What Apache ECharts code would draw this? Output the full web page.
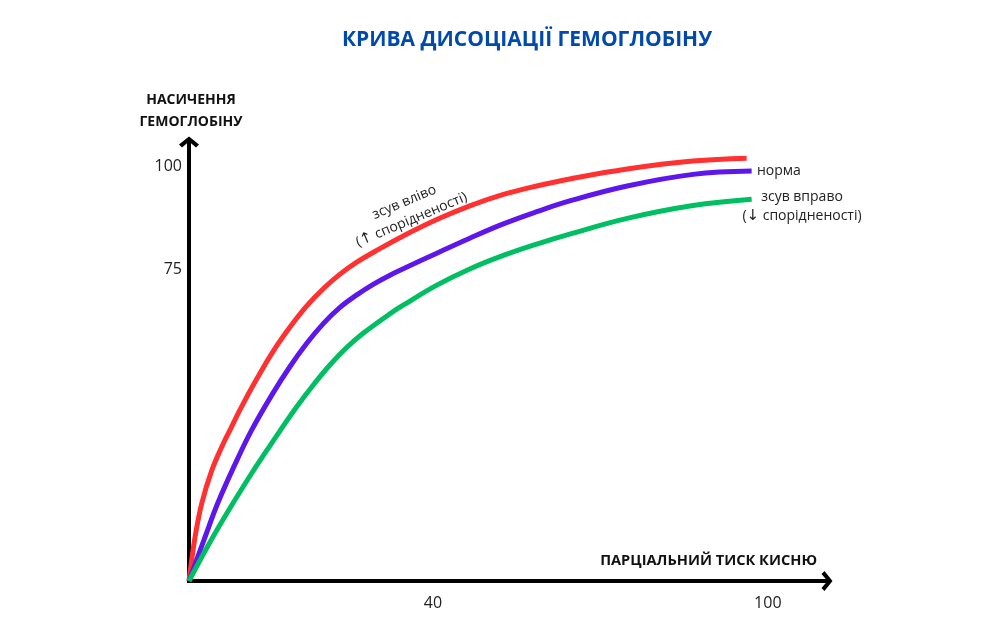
<!DOCTYPE html>
<html>
<head>
<meta charset="utf-8">
<script src="https://cdn.jsdelivr.net/npm/echarts@6/dist/echarts.min.js"></script>
<style>
  html, body { margin: 0; padding: 0; background: #fff; }
  #chart { width: 1000px; height: 628px; }
</style>
</head>
<body>
<div id="chart"></div>
<script>
// точки кривих: [тиск, насичення]
const X_MIN = -3.7
const X_MAX = 110.6
const Y_MAX = 105.8

const leftShift = [ // зсув вліво
  [-3.7, 0], [-3.5, 2.2], [-2.6, 10.7], [-1.4, 18.8], [0.4, 26.7], [2.2, 32.4],
  [3.8, 36.8], [5.4, 41.2], [8.4, 48.6], [11.4, 55.4], [14.4, 61.2], [17.4, 66.3],
  [20.4, 70.5], [23.3, 73.9], [26.3, 76.8], [30.5, 80.1], [34.6, 83.1], [40.7, 87.1],
  [46.6, 90.4], [52.5, 93.1], [58.6, 95.2], [64.5, 96.9], [74.8, 99.3], [86.6, 101.2],
  [96.2, 101.9]
]
const normal = [ // норма
  [-3.7, 0], [-0.8, 10.7], [1.5, 18.9], [4.5, 28.0], [7.5, 36.3], [11.4, 45.4],
  [14.4, 51.7], [17.4, 57.3], [20.4, 62.1], [23.3, 65.9], [26.3, 68.9], [29.3, 71.5],
  [32.3, 73.7], [34.6, 75.2], [40.7, 79.0], [46.6, 82.6], [52.5, 86.0], [58.6, 89.0],
  [64.5, 91.6], [74.8, 95.2], [86.6, 98.0], [97.1, 98.8]
]
const rightShift = [ // зсув вправо
  [-3.7, 0], [-0.3, 8.5], [3.3, 16.8], [7.5, 25.9], [10.2, 31.4], [12.6, 36.2],
  [15.6, 42.0], [18.6, 47.3], [21.5, 52.0], [24.5, 56.2], [27.5, 59.7], [32.3, 64.4],
  [34.6, 66.4], [40.7, 71.3], [46.6, 75.2], [52.5, 78.4], [58.6, 81.2], [64.5, 83.6],
  [74.8, 87.4], [86.6, 90.5], [97.1, 92.0]
]
const xTicks = [40, 100]
const yTicks = [75, 100]

const font = '"Open Sans", sans-serif'
const chevron = 'path://M10,0 L20,8 L17,11 L10,5 L3,11 L0,8 Z'

const myChart = echarts.init(document.getElementById('chart'))

function curve(name, data, color) {
  return {
    name: name,
    type: 'line',
    data: data,
    smooth: 0.4,
    showSymbol: false,
    silent: true,
    lineStyle: { color: color, width: 5 },
    z: 3
  }
}

function axisStyle() {
  return {
    show: true,
    onZero: false,
    symbol: ['none', chevron],
    symbolSize: [20, 11],
    lineStyle: { color: '#000', width: 4, cap: 'square' }
  }
}

const arrowRich = {
  a: { fontFamily: '"DejaVu Sans", sans-serif', fontSize: 15, fill: '#222' }
}

myChart.setOption({
  animation: false,
  grid: { left: 189, right: 173, top: 142, bottom: 47 },
  xAxis: {
    type: 'value',
    min: X_MIN,
    max: X_MAX,
    axisLine: axisStyle(),
    axisTick: { show: false },
    splitLine: { show: false },
    axisLabel: {
      customValues: xTicks,
      margin: 14,
      color: '#222',
      fontFamily: font,
      fontSize: 16
    }
  },
  yAxis: {
    type: 'value',
    min: 0,
    max: Y_MAX,
    axisLine: axisStyle(),
    axisTick: { show: false },
    splitLine: { show: false },
    axisLabel: {
      customValues: yTicks,
      margin: 7,
      color: '#222',
      fontFamily: font,
      fontSize: 16
    }
  },
  series: [
    curve('зсув вліво', leftShift, '#ff3131'),
    curve('норма', normal, '#5e17eb'),
    curve('зсув вправо', rightShift, '#00bf63')
  ],
  graphic: [
    {
      type: 'text', x: 527, y: 40,
      style: {
        text: 'КРИВА ДИСОЦІАЦІЇ ГЕМОГЛОБІНУ',
        fill: '#004aad', font: 'bold 21px ' + font,
        align: 'center', verticalAlign: 'middle'
      }
    },
    {
      type: 'text', x: 191, y: 111,
      style: {
        text: 'НАСИЧЕННЯ\nГЕМОГЛОБІНУ',
        fill: '#111', font: 'bold 14px ' + font, lineHeight: 22,
        align: 'center', verticalAlign: 'middle'
      }
    },
    {
      type: 'text', x: 817, y: 561,
      style: {
        text: 'ПАРЦІАЛЬНИЙ ТИСК КИСНЮ',
        fill: '#111', font: 'bold 14.6px ' + font,
        align: 'right', verticalAlign: 'middle'
      }
    },
    {
      type: 'text', x: 757, y: 171,
      style: {
        text: 'норма',
        fill: '#222', font: '14px ' + font,
        align: 'left', verticalAlign: 'middle'
      }
    },
    {
      type: 'text', x: 802, y: 207,
      style: {
        text: 'зсув вправо\n({a|↓} спорідненості)',
        rich: arrowRich,
        fill: '#222', font: '14px ' + font, lineHeight: 19,
        align: 'center', verticalAlign: 'middle'
      }
    },
    {
      type: 'text', x: 408, y: 211, rotation: 0.4,
      style: {
        text: 'зсув вліво\n({a|↑} спорідненості)',
        rich: arrowRich,
        fill: '#222', font: '14px ' + font, lineHeight: 19,
        align: 'center', verticalAlign: 'middle'
      }
    }
  ]
})
</script>
</body>
</html>
